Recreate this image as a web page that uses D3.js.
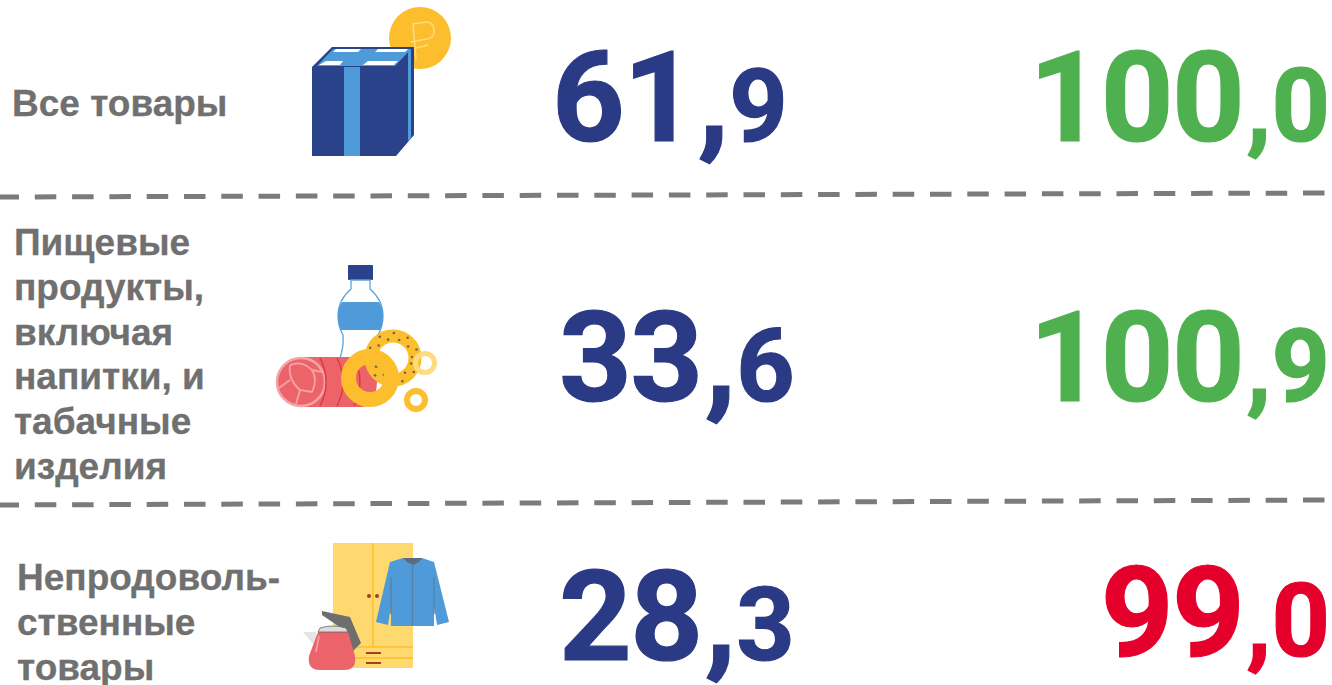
<!DOCTYPE html>
<html>
<head>
<meta charset="utf-8">
<script src="https://d3js.org/d3.v7.min.js"></script>
<style>
  html, body { margin: 0; padding: 0; background: #fff; overflow: hidden; }
  text { font-family: "Liberation Sans", Arial, sans-serif; font-weight: bold; }
  text.num { font-family: Roboto, "Liberation Sans", sans-serif; font-weight: 700; }
</style>
</head>
<body>
<svg id="chart"></svg>
<script>
// Data
const categories = ["Все товары", "Пищевые продукты", "Непродовольственные товары"];
const labelLines = [
  ["Все товары"],
  ["Пищевые", "продукты,", "включая", "напитки, и", "табачные", "изделия"],
  ["Непродоволь-", "ственные", "товары"]
];
const volumes = [61.9, 33.6, 28.3];
const indexes = [100.0, 100.9, 99.0];

const width = 1332;
const height = 685;

const blue = "#2b3a85";
const green = "#4fb04f";
const red = "#e4002b";
const grey = "#707070";

const svg = d3.select("#chart").attr("width", width).attr("height", height);

const defs = svg.append("defs");
defs.append("filter").attr("id", "soft")
  .append("feGaussianBlur").attr("stdDeviation", 0.5);

// Baseline of each row
const rowY = d3.scaleLinear().domain([0, 2]).range([141, 660]);
const fmt = d3.format(".1f");

// Split "61.9" into the big whole part and the small decimal
function drawNumber(value, color, commaSize) {
  const parts = fmt(value).split(".");
  const t = svg.append("text").attr("class", "num").attr("fill", color)
    .attr("stroke", color).attr("stroke-width", 1.2);
  t.append("tspan").attr("font-size", 127).attr("letter-spacing", -1.5).text(parts[0]);
  t.append("tspan").attr("font-size", commaSize).attr("dx", 3).text(",");
  t.append("tspan").attr("font-size", 102).text(parts[1]);
  return t;
}

// Row labels
categories.forEach((c, i) => {
  const lines = labelLines[i];
  const startY = [116, 255, 590][i];
  const x = [12, 14, 17][i];
  const t = svg.append("text").attr("fill", grey).attr("font-size", 37)
    .attr("stroke", grey).attr("stroke-width", 0.3);
  lines.forEach((line, j) => {
    t.append("tspan").attr("x", x).attr("y", startY + j * 44.8).text(line);
  });
});

// Dashed separators, a little tilted as in the source
[[197, 193], [505, 500]].forEach(d => {
  svg.append("line")
    .attr("x1", 0).attr("x2", width)
    .attr("y1", d[0]).attr("y2", d[1])
    .attr("stroke", "#7b7b7b").attr("stroke-width", 5)
    .attr("stroke-dasharray", "21.5 15.8")
    .attr("stroke-dashoffset", 2.5);
});

// Volume column
volumes.forEach((v, i) => {
  drawNumber(v, blue, 128).attr("x", i === 0 ? 552 : 559).attr("y", rowY(i));
});

// Index column, right aligned; green at or above 100, red below
indexes.forEach((v, i) => {
  drawNumber(v, v >= 100 ? green : red, 102)
    .attr("text-anchor", "end").attr("x", 1330)
    .attr("y", rowY(i) - (v >= 100 ? 0 : 4));
});

// Icons
const box = svg.append("g").attr("filter", "url(#soft)");
box.append("circle").attr("cx", 420).attr("cy", 38).attr("r", 31).attr("fill", "#fdbe2e");
box.append("path").attr("d", "M416 60 L413 24 L427 22 Q434 23 434 31 Q434 38 427 39 L411 42 M412 49 L428 45")
  .attr("fill", "none").attr("stroke", "#fedb7c").attr("stroke-width", 1.6);
box.append("path").attr("d", "M312 67 L332 47 H414 V135 L396 156 H312 Z").attr("fill", "#2b4289");
box.append("path").attr("d", "M344 67 H360 V156 H344 Z").attr("fill", "#4f9bd9");
box.append("path").attr("d", "M408 50 H411 V138 L408 141 Z").attr("fill", "#4f9bd9");
box.append("path").attr("d", "M317 66 L333 49 H411 L395 66 Z").attr("fill", "#4f9bd9");
box.append("path").attr("d", "M319 65 L326 61 H343 L340 65 Z M363 65 L368 61 H398 L394 65 Z M333 52 L336 49 H361 L358 52 Z M375 52 L378 49 H408 L405 52 Z").attr("fill", "#ffffff");

const food = svg.append("g").attr("filter", "url(#soft)");
food.append("rect").attr("x", 348).attr("y", 265).attr("width", 25).attr("height", 15).attr("rx", 1).attr("fill", "#2b4289");
food.append("path").attr("d", "M351 280 V289 Q338 300 338 316 Q338 326 343 335 Q344 346 340 358 H378 L378 335 Q383 326 383 316 Q383 300 370 289 V280 Z")
  .attr("fill", "#fff").attr("stroke", "#5aa5dc").attr("stroke-width", 1.3);
food.append("path").attr("d", "M342 302 H379 Q383 308 383 316 Q383 324 380 330 H341 Q338 324 338 316 Q338 308 342 302 Z").attr("fill", "#4f9bd9");
food.append("path").attr("d", "M300 357 H365 Q378 358 377 382 Q376 406 362 407 H300 Z").attr("fill", "#ec636a");
food.append("circle").attr("cx", 301).attr("cy", 382).attr("r", 24).attr("fill", "#ec636a").attr("stroke", "#f5a3a5").attr("stroke-width", 2.5);
food.append("path").attr("d", "M290 365 Q302 360 312 370 Q318 380 312 392 M290 365 Q288 380 300 390 L312 392 M300 390 L296 404 M290 380 L279 388 M312 370 L322 372")
  .attr("fill", "none").attr("stroke", "#f5a3a5").attr("stroke-width", 1.8);
food.append("path").attr("d", "M320 358 Q332 382 320 406 M337 358 Q349 382 337 406 M354 358 Q366 382 354 406")
  .attr("fill", "none").attr("stroke", "#e0303f").attr("stroke-width", 1.3);
food.append("circle").attr("cx", 393).attr("cy", 358).attr("r", 22).attr("fill", "none").attr("stroke", "#fdbe2e").attr("stroke-width", 13);
// poppy seeds on the big ring, just a light speckle
const seedAngles = d3.range(0, 360, 17);
food.selectAll("circle.seed").data(seedAngles).enter().append("circle")
  .attr("class", "seed")
  .attr("cx", (d, i) => 393 + (i % 2 ? 19 : 25) * Math.cos(d * Math.PI / 180))
  .attr("cy", (d, i) => 358 + (i % 2 ? 19 : 25) * Math.sin(d * Math.PI / 180))
  .attr("r", 1.3).attr("fill", "#6d6a50");
food.append("circle").attr("cx", 425).attr("cy", 363).attr("r", 9.5).attr("fill", "none").attr("stroke", "#fedb7c").attr("stroke-width", 5);
food.append("circle").attr("cx", 416).attr("cy", 400).attr("r", 9).attr("fill", "none").attr("stroke", "#fdbe2e").attr("stroke-width", 6);
food.append("circle").attr("cx", 370).attr("cy", 378).attr("r", 21.5).attr("fill", "none").attr("stroke", "#fdbe2e").attr("stroke-width", 15);

const home = svg.append("g").attr("filter", "url(#soft)");
home.append("rect").attr("x", 333).attr("y", 543).attr("width", 80).attr("height", 125).attr("fill", "#fed96f");
home.append("path").attr("d", "M373 543 V647 M333 647 H413 M333 658 H413").attr("stroke", "#fdbe2e").attr("stroke-width", 1.5).attr("fill", "none");
home.append("circle").attr("cx", 369).attr("cy", 596).attr("r", 2).attr("fill", "#a5401f");
home.append("circle").attr("cx", 377).attr("cy", 596).attr("r", 2).attr("fill", "#a5401f");
home.append("path").attr("d", "M366 653 H381 M366 663 H381").attr("stroke", "#a5401f").attr("stroke-width", 2);
home.append("path").attr("d", "M403 558 H422 L434 562 L449 622 L437 625 L434 606 V626 H391 V606 L388 625 L376 622 L390 562 Z").attr("fill", "#4f9bd9");
home.append("path").attr("d", "M403 558 H422 L419 562 L413 565 L407 562 Z").attr("fill", "#5c6c7c");
home.append("path").attr("d", "M412.5 564 V626 M391 577 V614 M434 577 V614").attr("stroke", "#5a83a8").attr("stroke-width", 1.5).attr("fill", "none");
home.append("path").attr("d", "M322 611 L350 617 L361 643 L353 651 L347 632 L322 615 Z").attr("fill", "#6e6e6e");
home.append("path").attr("d", "M303 632 H316 L318 650 Z").attr("fill", "#e5e5e5");
home.append("path").attr("d", "M318 632 H348 L355 656 Q357 670 344 670 H320 Q307 670 309 656 Z").attr("fill", "#ec636a");
home.append("path").attr("d", "M318 632 L320 628 Q333 624 346 628 L348 632 Z").attr("fill", "#dcdcdc").attr("stroke", "#666").attr("stroke-width", 0.8);
home.append("path").attr("d", "M319 636 L316 652").attr("stroke", "#f5a3a5").attr("stroke-width", 1.5);
</script>
</body>
</html>
